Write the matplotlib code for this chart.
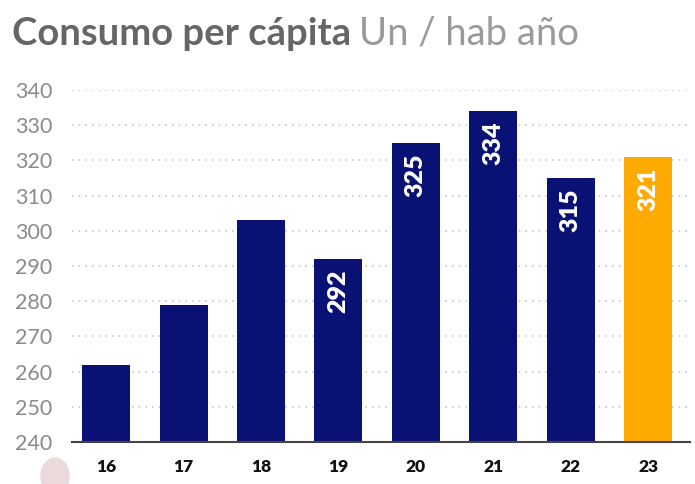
import matplotlib
matplotlib.use("Agg")
import matplotlib.pyplot as plt
from matplotlib.patches import Ellipse

years = ["16", "17", "18", "19", "20", "21", "22", "23"]
consumo = [262, 279, 303, 292, 325, 334, 315, 321]
mostrar = [False, False, False, True, True, True, True, True]
colores = ["#0a1174"] * 7 + ["#ffaa00"]
y_ticks = [240, 250, 260, 270, 280, 290, 300, 310, 320, 330, 340]

plt.rcParams['font.family'] = ['Lato', 'DejaVu Sans']

fig = plt.figure(figsize=(6.95, 4.84), dpi=100)
ax = fig.add_axes([0.1036, 0.0868, 0.8894, 0.7272])

x = range(len(years))
ax.bar(x, consumo, width=0.62, color=colores, zorder=3)

for i, (v, show) in enumerate(zip(consumo, mostrar)):
    if show:
        ax.text(i, v - 3, str(v), rotation=90, ha='center', va='top',
                color='white', fontsize=18, fontweight='heavy', zorder=4)

ax.set_ylim(240, 340)
ax.set_xlim(-0.44, 7.54)
ax.set_yticks(y_ticks)
ax.set_xticks(list(x))
ax.set_xticklabels(years, fontsize=12.5, fontweight='heavy', color='#111111')
ax.tick_params(axis='y', length=0, labelsize=15.5, labelcolor='#8a8a8a', pad=14)
ax.tick_params(axis='x', length=0, pad=12)

ax.grid(axis='y', linestyle=(0, (1, 3)), color='#c8c8c8', linewidth=1.2, zorder=0)
for s in ['top', 'right', 'left']:
    ax.spines[s].set_visible(False)
ax.spines['bottom'].set_color('#444444')
ax.spines['bottom'].set_linewidth(1.5)
ax.spines['bottom'].set_zorder(5)

# small decorative blob at bottom-left
fig.patches.append(Ellipse((55 / 695, 1 - 476 / 484), 28 / 695, 36 / 484,
                           transform=fig.transFigure, color='#ecdada', zorder=0))

fig.text(12 / 695, 1 - 34 / 484, "Consumo per cápita", fontsize=27.5, fontweight='bold',
         color='#666666', va='center', ha='left')
fig.canvas.draw()
t1 = fig.texts[-1]
bb = t1.get_window_extent()
fig.text((bb.x1 + 8) / 695, 1 - 34 / 484, "Un / hab año", fontsize=27.5, fontweight='normal',
         color='#9a9a9a', va='center', ha='left')

fig.savefig("out.png", dpi=100)
